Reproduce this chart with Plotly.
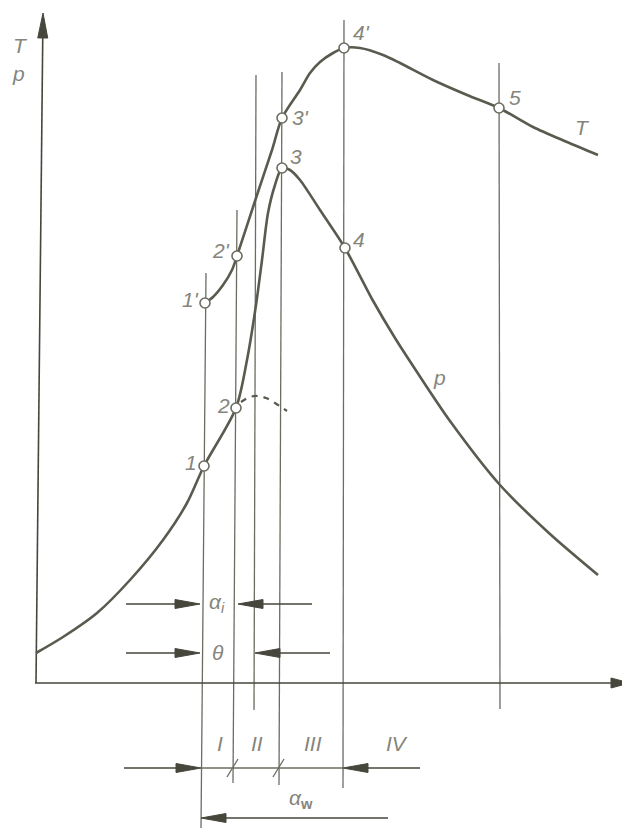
import plotly.graph_objects as go

# Picture coordinates: x to the right, y downward (pixels of the 630x828 drawing)

# pressure curve p
p_x = [36, 63, 97, 130, 163, 187, 204, 236, 247, 256, 262, 268, 275, 282, 290, 300, 320, 345, 372, 395, 417, 450, 500, 550, 598]
p_y = [653, 637, 613, 580, 540, 503, 466, 408, 360, 305, 260, 213, 185, 168, 170, 180, 210, 248, 299, 338, 372, 421, 485, 534, 575]

# temperature curve T
T_x = [205, 213, 223, 232, 237, 256, 272, 282, 300, 310, 320, 333, 344, 360, 383, 400, 433, 467, 499, 533, 567, 598]
T_y = [303, 297, 285, 270, 256, 198, 150, 118, 90, 73, 62, 53, 48, 48, 55, 63, 80, 95, 108, 127, 142, 155]

# dashed continuation of p from point 2
dash_x = [241, 250, 258, 266, 275, 287]
dash_y = [402, 397, 396, 398, 403, 411]

# characteristic points
pt_names = ["1", "1'", "2", "2'", "3", "3'", "4", "4'", "5"]
pt_x = [204, 205, 236, 237, 282, 282, 345, 344, 499]
pt_y = [466, 303, 408, 256, 168, 118, 248, 48, 108]
pt_label_x = [191, 190, 223, 221, 296, 300, 359, 361, 515]
pt_label_y = [462, 299, 405, 250, 156, 117, 239, 32, 97]

# vertical guide lines (top / bottom ends)
vl_x_top = [206, 237, 256, 282, 344, 499]
vl_x_bot = [201, 233, 254, 279, 343, 500]
vl_y_top = [273, 210, 75, 72, 20, 63]
vl_y_bot = [828, 783, 710, 785, 788, 709]

# dimension arrows (tail -> tip)
arr_tail_x = [126, 312, 126, 330, 124, 420, 388]
arr_tail_y = [604, 604, 653, 653, 768, 768, 818]
arr_tip_x = [200, 238, 200, 255, 201, 343, 201]
arr_tip_y = [604, 604, 653, 653, 768, 768, 818]

# axes (tail -> tip)
axis_tail_x = [36, 35]
axis_tail_y = [683, 683]
axis_tip_x = [43, 630]
axis_tip_y = [13, 683]

# phase division ticks on the dimension line
tick_x = [233, 279]
dim_y = 768

# text labels
txt = ["<i>T</i>", "<i>p</i>", "<i>T</i>", "<i>p</i>",
       "<i>α</i><sub><i>i</i></sub>", "<i>θ</i>",
       "<i>I</i>", "<i>II</i>", "<i>III</i>", "<i>IV</i>",
       "<i>α</i><sub><b>w</b></sub>"]
txt_x = [20, 18, 582, 439, 217, 218, 220, 257, 313, 397, 301]
txt_y = [45, 73, 127, 377, 603, 652, 743, 743, 743, 743, 799]

CURVE = "#5a5a4f"
LINE = "#6c6c62"
ARROW = "#46463c"
TEXT = "#85857b"

# the page body has an 8px margin; shift the view so picture pixels land in place
OFF = 8


def head(tx, ty, sx, sy, length, half):
    dx, dy = tx - sx, ty - sy
    n = (dx * dx + dy * dy) ** 0.5
    ux, uy = dx / n, dy / n
    bx, by = tx - ux * length, ty - uy * length
    return ([tx, bx - uy * half, bx + uy * half, tx, None],
            [ty, by + ux * half, by - ux * half, ty, None],
            bx, by)


fig = go.Figure()

# vertical lines
lx, ly = [], []
for a, b, c, d in zip(vl_x_top, vl_y_top, vl_x_bot, vl_y_bot):
    lx += [a, c, None]
    ly += [b, d, None]
# dimension line and slashes
lx += [arr_tip_x[4], arr_tip_x[5], None]
ly += [dim_y, dim_y, None]
for t in tick_x:
    lx += [t - 6, t + 5, None]
    ly += [dim_y + 9, dim_y - 9, None]
fig.add_trace(go.Scatter(x=lx, y=ly, mode="lines", line=dict(color=LINE, width=1.3),
                         hoverinfo="skip", cliponaxis=False))

# arrows
ax_l, ay_l, hx, hy = [], [], [], []
for sx, sy, tx, ty in zip(arr_tail_x, arr_tail_y, arr_tip_x, arr_tip_y):
    xs, ys, bx, by = head(tx, ty, sx, sy, 25, 4.5)
    hx += xs
    hy += ys
    ax_l += [sx, bx, None]
    ay_l += [sy, by, None]
for sx, sy, tx, ty, ln in zip(axis_tail_x, axis_tail_y, axis_tip_x, axis_tip_y, [25, 19]):
    xs, ys, bx, by = head(tx, ty, sx, sy, ln, 5)
    hx += xs
    hy += ys
    ax_l += [sx, bx, None]
    ay_l += [sy, by, None]
fig.add_trace(go.Scatter(x=ax_l, y=ay_l, mode="lines", line=dict(color=ARROW, width=1.6),
                         hoverinfo="skip", cliponaxis=False))
fig.add_trace(go.Scatter(x=hx, y=hy, mode="lines", fill="toself", fillcolor=ARROW,
                         line=dict(color=ARROW, width=1), hoverinfo="skip", cliponaxis=False))

# curves
fig.add_trace(go.Scatter(x=p_x, y=p_y, mode="lines", line=dict(color=CURVE, width=2.6, shape="spline", smoothing=0.8)))
fig.add_trace(go.Scatter(x=T_x, y=T_y, mode="lines", line=dict(color=CURVE, width=2.6, shape="spline", smoothing=0.8)))
fig.add_trace(go.Scatter(x=dash_x, y=dash_y, mode="lines",
                         line=dict(color=CURVE, width=2.2, dash="6px,6px", shape="spline")))

# points
fig.add_trace(go.Scatter(x=pt_x, y=pt_y, mode="markers",
                         marker=dict(size=10, color="white", line=dict(color=LINE, width=1.6))))

for name, x, y in zip(pt_names, pt_label_x, pt_label_y):
    fig.add_annotation(x=x, y=y, text="<i>%s</i>" % name, showarrow=False,
                       font=dict(size=21, color=TEXT))
for t, x, y in zip(txt, txt_x, txt_y):
    fig.add_annotation(x=x, y=y, text=t, showarrow=False, font=dict(size=21, color=TEXT))

fig.update_layout(
    width=630 - OFF, height=828 - OFF,
    margin=dict(l=0, r=0, t=0, b=0),
    paper_bgcolor="white", plot_bgcolor="white",
    showlegend=False,
    font=dict(family="Liberation Sans, Arial, sans-serif"),
    xaxis=dict(range=[OFF, 630], visible=False, fixedrange=True),
    yaxis=dict(range=[828, OFF], visible=False, fixedrange=True),
)

fig.write_html("out.html")
